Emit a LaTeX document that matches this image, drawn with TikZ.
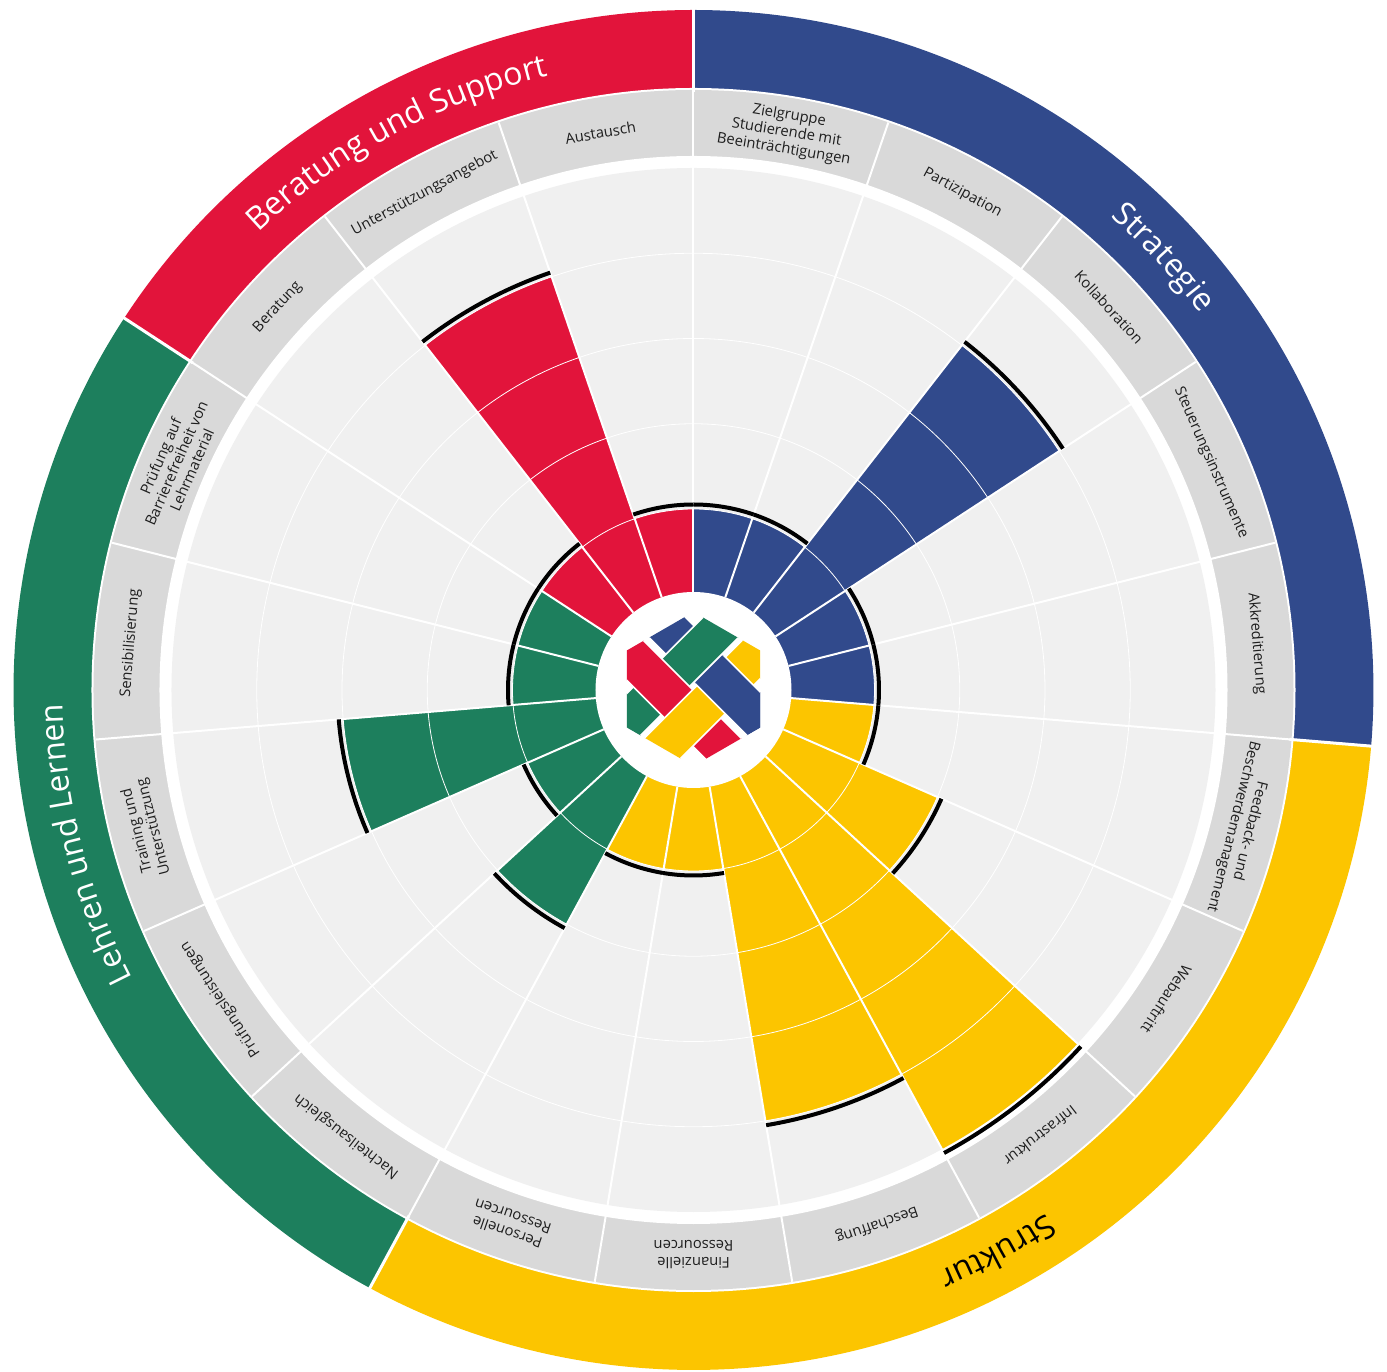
\documentclass[tikz,border=0pt]{standalone}
\usepackage{fontspec}
\setmainfont{Open Sans}
\usetikzlibrary{decorations.text}

\definecolor{rotBS}{RGB}{226,20,59}
\definecolor{blauST}{RGB}{49,74,140}
\definecolor{gruenLL}{RGB}{29,127,93}
\definecolor{gelbSK}{RGB}{252,197,0}
\definecolor{ringgrau}{RGB}{217,217,217}
\definecolor{feldgrau}{RGB}{240,240,240}
\definecolor{schrift}{RGB}{30,30,30}

\newcommand{\ringfont}{\fontsize{32}{38}\selectfont}

\tikzset{
  seglabel/.style={align=center, text=schrift, inner sep=0pt, font=\fontsize{14.8}{17}\selectfont},
  speiche/.style={white, line width=2pt},
  gitter/.style={white, line width=0.8pt},
  marke/.style={black, line width=4pt},
  band/.style={draw=white, line width=1.6pt},
  ringtext/.style={decorate, decoration={text along path, text align=center, text color=#1}},
}

\begin{document}
\begin{tikzpicture}[x=1pt,y=1pt]
                    \useasboundingbox (-693.5,-682) rectangle (693.5,690);
                    \fill[white] (-693.5,-682) rectangle (693.5,690);
                    \pgfmathsetmacro{\seg}{360/19}

                    % aeusserer Ring
                    \foreach \von/\bis/\col in {90/-4.7368/blauST, -4.7368/-118.4211/gelbSK, 241.5789/146.8421/gruenLL, 146.8421/90/rotBS}
                        \fill[\col] (0,0) -- (\von:680) arc[start angle=\von, end angle=\bis, radius=680] -- cycle;
                    \fill[white] (0,0) circle (602);
                    \fill[ringgrau] (0,0) circle (600);
                    \fill[white] (0,0) circle (534);
                    \fill[feldgrau] (0,0) circle (522);

                    % Balken
                    \foreach \i/\lev/\col in {0/1/blauST, 1/1/blauST, 2/4/blauST, 3/1/blauST, 4/1/blauST,
                                              5/1/gelbSK, 6/2/gelbSK, 7/5/gelbSK, 8/4/gelbSK, 9/1/gelbSK, 10/1/gelbSK,
                                              11/2/gruenLL, 12/1/gruenLL, 13/3/gruenLL, 14/1/gruenLL, 15/1/gruenLL,
                                              16/1/rotBS, 17/4/rotBS, 18/1/rotBS}{
                        \pgfmathsetmacro{\a}{90-\i*\seg}
                        \pgfmathsetmacro{\b}{90-(\i+1)*\seg}
                        \pgfmathsetmacro{\r}{95.75+85.25*\lev}
                        \fill[\col] (0,0) -- (\a:\r) arc[start angle=\a, end angle=\b, radius=\r] -- cycle;
                    }
                    \foreach \r in {181,266.25,351.5,436.75}
                        \draw[gitter] (0,0) circle (\r);
                    \foreach \i in {0,...,18}
                        \draw[speiche] (90-\i*\seg:98) -- (90-\i*\seg:600);
                    \foreach \w in {90,-4.7368,-118.4211,146.8421}
                        \draw[white, line width=3pt] (\w:598) -- (\w:684);

                    % Marken
                    \foreach \i/\lev in {0/1, 1/1, 2/4, 3/1, 4/1, 5/1, 6/2, 7/5, 8/4, 9/1, 10/1,
                                         11/2, 12/1, 13/3, 14/1, 15/1, 16/1, 17/4, 18/1}{
                        \pgfmathsetmacro{\a}{90-\i*\seg}
                        \pgfmathsetmacro{\b}{90-(\i+1)*\seg}
                        \pgfmathsetmacro{\r}{100.25+85.25*\lev}
                        \draw[marke] (\a:\r) arc[start angle=\a, end angle=\b, radius=\r];
                    }

                    % Logo
                    \fill[white] (0,0) circle (98);
                    \begin{scope}[shift={(0,1)}]
                        \clip (90:77) -- (30:77) -- (-30:77) -- (-90:77) -- (-150:77) -- (150:77) -- cycle;
                        \begin{scope}[rotate=-45]
                            \filldraw[band, fill=blauST] (-120,5) rectangle (120,45);
                            \filldraw[band, fill=gruenLL] (-44,-120) rectangle (-4.5,120);
                            \filldraw[band, fill=rotBS] (-120,-41) rectangle (120,-1);
                            \filldraw[band, fill=gelbSK] (0,-120) rectangle (40,120);
                            \clip (-2.2,-120) rectangle (120,120);
                            \filldraw[band, fill=blauST] (-120,5) rectangle (120,45);
                        \end{scope}
                    \end{scope}

                    % Beschriftung
                    \foreach \i/\txt in {0/{Zielgruppe\\Studierende mit\\Beeinträchtigungen}, 1/Partizipation, 2/Kollaboration,
                                         3/Steuerungsinstrumente, 4/Akkreditierung, 5/{Feedback- und\\Beschwerdemanagement},
                                         6/Webauftritt, 7/Infrastruktur, 8/Beschaffung, 9/{Finanzielle\\Ressourcen},
                                         10/{Personelle\\Ressourcen}, 11/Nachteilsausgleich, 12/Prüfungsleistungen,
                                         13/{Training und\\Unterstützung}, 14/Sensibilisierung,
                                         15/{Prüfung auf\\Barrierefreiheit von\\Lehrmaterial}, 16/Beratung,
                                         17/Unterstützungsangebot, 18/Austausch}{
                        \pgfmathsetmacro{\m}{90-(\i+0.5)*\seg}
                        \pgfmathsetmacro{\rot}{\m-90}
                        \node[seglabel, rotate=\rot] (lab\i) at (\m:565) {\txt};
                    }

                    \path[ringtext=white, decoration={text={|\ringfont|Beratung und Support}}]
                        (146.8421:631) arc[start angle=146.8421, end angle=90, radius=631];
                    \path[ringtext=white, decoration={text={|\ringfont|Strategie}}]
                        (90:631) arc[start angle=90, end angle=-4.7368, radius=631];
                    \path[ringtext=black, decoration={text={|\ringfont|Struktur}}]
                        (-4.7368:631) arc[start angle=-4.7368, end angle=-118.4211, radius=631];
                    \path[ringtext=white, decoration={text={|\ringfont|Lehren und Lernen}}]
                        (241.5789:631) arc[start angle=241.5789, end angle=146.8421, radius=631];
\end{tikzpicture}
\end{document}
